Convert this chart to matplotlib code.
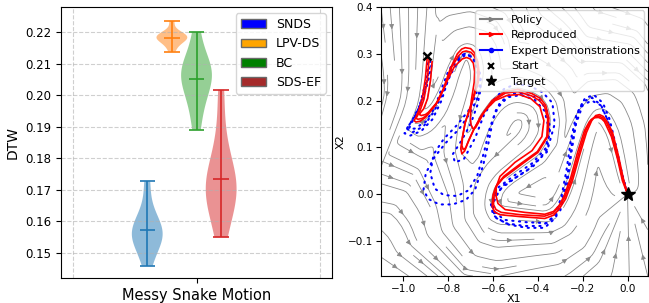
import numpy as np
import matplotlib
matplotlib.use("Agg")
import matplotlib.pyplot as plt
from matplotlib.patches import Patch
from matplotlib.lines import Line2D

# ---- left panel: DTW per method (one task) ----
methods = ["SNDS", "LPV-DS", "BC", "SDS-EF"]
legend_colors = ["blue", "orange", "green", "brown"]
violin_colors = ["C0", "C1", "C2", "C3"]
task_label = "Messy Snake Motion"

dtw_snds = [0.146, 0.151, 0.153, 0.155, 0.156, 0.157, 0.158, 0.160, 0.164, 0.1727]
dtw_lpvds = [0.2138, 0.2160, 0.2170, 0.2178, 0.2182, 0.2185, 0.2188, 0.2190, 0.2194, 0.2235]
dtw_bc = [0.189, 0.196, 0.200, 0.203, 0.2055, 0.207, 0.208, 0.209, 0.2125, 0.220]
dtw_sdsef = [0.155, 0.162, 0.166, 0.169, 0.171, 0.172, 0.174, 0.178, 0.187, 0.2017]
dtw_ticks = [0.15, 0.16, 0.17, 0.18, 0.19, 0.20, 0.21, 0.22]

# ---- right panel: trajectories (x1, x2) ----
start = (-0.893, 0.295)
target = (0.0, 0.0)

repro_a_x = [-0.893, -0.902, -0.916, -0.933, -0.946, -0.952, -0.944, -0.925, -0.901, -0.857,
             -0.821, -0.790, -0.759, -0.740, -0.724, -0.700, -0.684, -0.668, -0.662, -0.666,
             -0.693, -0.724, -0.738, -0.744, -0.739, -0.727, -0.712, -0.688, -0.653, -0.604,
             -0.547, -0.489, -0.427, -0.390, -0.365, -0.351, -0.356, -0.400, -0.480, -0.555,
             -0.588, -0.600, -0.604, -0.593, -0.569, -0.480, -0.369, -0.330, -0.305, -0.276,
             -0.245, -0.214, -0.183, -0.160, -0.142, -0.125, -0.108, -0.090, -0.067, -0.041,
             -0.019, 0.0]
repro_a_y = [0.295, 0.247, 0.204, 0.177, 0.163, 0.157, 0.154, 0.156, 0.164, 0.190,
             0.226, 0.269, 0.300, 0.310, 0.313, 0.311, 0.303, 0.283, 0.260, 0.239,
             0.196, 0.153, 0.118, 0.097, 0.086, 0.092, 0.110, 0.136, 0.168, 0.200,
             0.219, 0.224, 0.215, 0.205, 0.190, 0.162, 0.123, 0.089, 0.061, 0.034,
             0.015, -0.002, -0.026, -0.038, -0.044, -0.048, -0.052, -0.045, -0.032, -0.010,
             0.030, 0.083, 0.132, 0.157, 0.168, 0.170, 0.166, 0.154, 0.132, 0.083,
             0.034, 0.0]

repro_b_x = [-0.872, -0.879, -0.892, -0.910, -0.924, -0.928, -0.920, -0.902, -0.888, -0.843,
             -0.808, -0.772, -0.737, -0.718, -0.702, -0.688, -0.682, -0.684, -0.697, -0.701,
             -0.698, -0.690, -0.678, -0.665, -0.635, -0.591, -0.537, -0.484, -0.431, -0.391,
             -0.373, -0.382, -0.426, -0.502, -0.569, -0.586, -0.586, -0.578, -0.546, -0.458,
             -0.369, -0.330, -0.305, -0.284, -0.253, -0.223, -0.192, -0.170, -0.150, -0.130,
             -0.115, -0.103, -0.072, -0.045, -0.023, 0.0]
repro_b_y = [0.283, 0.243, 0.204, 0.182, 0.174, 0.170, 0.168, 0.170, 0.175, 0.200,
             0.239, 0.273, 0.289, 0.292, 0.289, 0.280, 0.262, 0.239, 0.200, 0.162,
             0.148, 0.140, 0.142, 0.153, 0.179, 0.200, 0.211, 0.213, 0.204, 0.187,
             0.157, 0.123, 0.093, 0.068, 0.038, 0.015, -0.005, -0.020, -0.033, -0.039,
             -0.043, -0.037, -0.024, -0.005, 0.036, 0.089, 0.136, 0.155, 0.163, 0.164,
             0.161, 0.155, 0.123, 0.076, 0.029, 0.0]

repro_c_x = [-0.885, -0.893, -0.908, -0.926, -0.939, -0.944, -0.935, -0.915, -0.897, -0.852,
             -0.815, -0.784, -0.753, -0.736, -0.720, -0.698, -0.685, -0.671, -0.667, -0.671,
             -0.697, -0.725, -0.736, -0.739, -0.733, -0.722, -0.708, -0.684, -0.648, -0.600,
             -0.545, -0.488, -0.428, -0.393, -0.370, -0.356, -0.360, -0.402, -0.480, -0.552,
             -0.583, -0.594, -0.598, -0.587, -0.563, -0.478, -0.370, -0.333, -0.308, -0.280,
             -0.249, -0.218, -0.187, -0.163, -0.145, -0.128, -0.111, -0.093, -0.069, -0.043,
             -0.021, 0.0]
repro_c_y = [0.290, 0.245, 0.203, 0.178, 0.166, 0.162, 0.160, 0.162, 0.168, 0.194,
             0.230, 0.272, 0.296, 0.304, 0.306, 0.303, 0.296, 0.280, 0.258, 0.236,
             0.194, 0.152, 0.122, 0.104, 0.095, 0.099, 0.116, 0.140, 0.170, 0.199,
             0.216, 0.219, 0.210, 0.200, 0.187, 0.160, 0.123, 0.091, 0.064, 0.038,
             0.020, 0.003, -0.022, -0.033, -0.039, -0.044, -0.047, -0.041, -0.028, -0.007,
             0.033, 0.086, 0.135, 0.159, 0.165, 0.167, 0.163, 0.152, 0.128, 0.080,
             0.032, 0.0]

demo1_x = [-0.875, -0.890, -0.915, -0.950, -0.985, -0.995, -0.970, -0.920, -0.870, -0.830,
           -0.800, -0.770, -0.735, -0.700, -0.670, -0.655, -0.665, -0.700, -0.750, -0.810,
           -0.860, -0.900, -0.910, -0.890, -0.840, -0.780, -0.720, -0.680, -0.645, -0.620,
           -0.600, -0.570, -0.520, -0.460, -0.400, -0.360, -0.345, -0.360, -0.420, -0.500,
           -0.570, -0.605, -0.590, -0.530, -0.450, -0.370, -0.320, -0.290, -0.265, -0.245,
           -0.220, -0.190, -0.150, -0.110, -0.080, -0.050, -0.025, 0.0]
demo1_y = [0.275, 0.240, 0.200, 0.165, 0.140, 0.130, 0.125, 0.135, 0.160, 0.200,
           0.245, 0.280, 0.298, 0.295, 0.275, 0.245, 0.210, 0.175, 0.140, 0.110,
           0.080, 0.045, 0.010, -0.010, -0.022, -0.022, -0.012, 0.010, 0.060, 0.110,
           0.160, 0.195, 0.215, 0.215, 0.205, 0.180, 0.140, 0.095, 0.060, 0.035,
           0.010, -0.025, -0.050, -0.065, -0.072, -0.072, -0.050, -0.010, 0.050, 0.120,
           0.175, 0.205, 0.212, 0.195, 0.160, 0.100, 0.045, 0.0]

demo2_x = [-0.890, -0.905, -0.930, -0.965, -0.975, -0.950, -0.900, -0.860, -0.830, -0.800,
           -0.765, -0.725, -0.685, -0.660, -0.655, -0.670, -0.700, -0.740, -0.780, -0.770,
           -0.730, -0.680, -0.640, -0.600, -0.550, -0.500, -0.440, -0.380, -0.335, -0.325,
           -0.360, -0.450, -0.550, -0.600, -0.600, -0.550, -0.450, -0.360, -0.300, -0.270,
           -0.250, -0.230, -0.200, -0.160, -0.120, -0.090, -0.060, -0.030, 0.0]
demo2_y = [0.280, 0.230, 0.185, 0.150, 0.140, 0.140, 0.155, 0.185, 0.225, 0.262,
           0.290, 0.300, 0.290, 0.262, 0.225, 0.190, 0.150, 0.115, 0.085, 0.068,
           0.075, 0.120, 0.170, 0.200, 0.225, 0.235, 0.232, 0.218, 0.195, 0.150,
           0.090, 0.050, 0.020, -0.010, -0.035, -0.055, -0.060, -0.062, -0.035, 0.020,
           0.090, 0.150, 0.190, 0.200, 0.190, 0.160, 0.110, 0.050, 0.0]

demo3_x = [-0.880, -0.895, -0.925, -0.960, -0.985, -0.960, -0.910, -0.865, -0.825, -0.790,
           -0.750, -0.715, -0.680, -0.665, -0.675, -0.710, -0.760, -0.820, -0.865, -0.880,
           -0.860, -0.820, -0.760, -0.710, -0.670, -0.640, -0.615, -0.585, -0.535, -0.475,
           -0.415, -0.370, -0.350, -0.365, -0.425, -0.505, -0.575, -0.610, -0.600, -0.545,
           -0.460, -0.380, -0.325, -0.295, -0.272, -0.252, -0.228, -0.198, -0.158, -0.118,
           -0.086, -0.056, -0.028, 0.0]
demo3_y = [0.285, 0.238, 0.192, 0.158, 0.140, 0.132, 0.145, 0.175, 0.215, 0.255,
           0.288, 0.300, 0.285, 0.250, 0.212, 0.178, 0.148, 0.118, 0.085, 0.045,
           0.012, -0.002, -0.004, 0.008, 0.040, 0.090, 0.140, 0.182, 0.207, 0.212,
           0.202, 0.178, 0.138, 0.098, 0.066, 0.040, 0.015, -0.020, -0.045, -0.062,
           -0.068, -0.068, -0.046, -0.006, 0.052, 0.118, 0.170, 0.198, 0.206, 0.190,
           0.156, 0.102, 0.048, 0.0]


def policy_field(gx, gy, path_x, path_y, gain=1.2):
    """Field that follows the reproduced path: tangent of nearest segment + pull to it."""
    path = np.column_stack([path_x, path_y])
    p = np.column_stack([gx.ravel(), gy.ravel()])
    a, b = path[:-1], path[1:]
    ab = b - a
    w = np.array([1.0, 2.0])
    ap = p[:, None, :] - a[None]
    t = np.clip((ap * ab[None] * w**2).sum(-1) / (ab**2 * w**2).sum(-1), 0, 1)
    proj = a[None] + t[..., None] * ab[None]
    d2 = (((proj - p[:, None]) * w) ** 2).sum(-1)
    idx = d2.argmin(1)
    near = proj[np.arange(len(p)), idx]
    tang = ab[idx] / np.linalg.norm(ab[idx] * w, axis=1)[:, None]
    fade = np.clip(np.linalg.norm(near - path[-1], axis=1) / 0.08, 0, 1)[:, None]
    v = tang * fade + gain * (near - p)
    return v[:, 0].reshape(gx.shape), v[:, 1].reshape(gx.shape)


fig = plt.figure(figsize=(6.49, 3.03), dpi=100)

# ---------------- left ----------------
ax1 = fig.add_axes([0.094, 0.0825, 0.4176, 0.8945])
all_dtw = [dtw_snds, dtw_lpvds, dtw_bc, dtw_sdsef]
positions = [0.6, 0.8, 1.0, 1.2]
for vals, pos, col in zip(all_dtw, positions, violin_colors):
    parts = ax1.violinplot(vals, positions=[pos], widths=0.25, showmeans=True)
    for body in parts["bodies"]:
        body.set_facecolor(col)
        body.set_edgecolor("none")
        body.set_alpha(0.5)
    for key in ("cmeans", "cmins", "cmaxes", "cbars"):
        parts[key].set_color(col)
        parts[key].set_linewidth(1.2)

ax1.set_xlim(-0.1, 2.1)
ax1.set_ylim(0.1421, 0.2279)
ax1.set_xticks([1.0], [task_label], fontsize=10.5)
ax1.set_xticks([0.0, 2.0], minor=True)
ax1.tick_params(axis="x", which="minor", length=0)
ax1.set_yticks(dtw_ticks, [f"{v:.2f}" for v in dtw_ticks], fontsize=8.5)
ax1.grid(axis="y", linestyle="--", alpha=0.6)
ax1.grid(axis="x", which="minor", linestyle="--", alpha=0.6)
ax1.set_ylabel("DTW", fontsize=10)
ax1.legend(
    handles=[Patch(facecolor=c, edgecolor="dimgray", label=m) for m, c in zip(methods, legend_colors)],
    loc="upper right", fontsize=9,
)

# ---------------- right ----------------
ax2 = fig.add_axes([0.587, 0.089, 0.411, 0.888])
xs = np.linspace(-1.1, 0.09, 90)
ys = np.linspace(-0.175, 0.40, 90)
gx, gy = np.meshgrid(xs, ys)
u, v = policy_field(gx, gy, repro_a_x, repro_a_y)
ax2.streamplot(xs, ys, u, v, color="#8a8a8a", linewidth=0.6, density=1.0, arrowsize=0.7)

for dx, dy in [(demo1_x, demo1_y), (demo2_x, demo2_y), (demo3_x, demo3_y)]:
    ax2.plot(dx, dy, color="blue", linewidth=1.5, linestyle=(0, (0.6, 2.6)),
             dash_capstyle="round", zorder=3)
for rx, ry in [(repro_a_x, repro_a_y), (repro_b_x, repro_b_y), (repro_c_x, repro_c_y)]:
    ax2.plot(rx, ry, color="red", linewidth=1.2, zorder=4)
ax2.plot(*start, marker="x", color="black", markersize=6, mew=1.8, zorder=5)
ax2.plot(*target, marker="*", color="black", markersize=10, zorder=5)

ax2.set_xlim(-1.1, 0.09)
ax2.set_ylim(-0.175, 0.40)
ax2.tick_params(labelsize=7.5, pad=2)
ax2.set_xlabel("X1", fontsize=8, labelpad=0)
ax2.set_ylabel("X2", fontsize=8, labelpad=2)
ax2.legend(
    handles=[
        Line2D([], [], color="grey", marker=">", markersize=3, label="Policy"),
        Line2D([], [], color="red", marker=">", markersize=3, label="Reproduced"),
        Line2D([], [], color="blue", marker="o", markersize=3, label="Expert Demonstrations"),
        Line2D([], [], color="black", marker="x", linestyle="none", markersize=5, mew=1.5, label="Start"),
        Line2D([], [], color="black", marker="*", linestyle="none", markersize=8, label="Target"),
    ],
    loc="upper right", fontsize=8, borderaxespad=0.3,
)

fig.savefig("out.png", dpi=100)
